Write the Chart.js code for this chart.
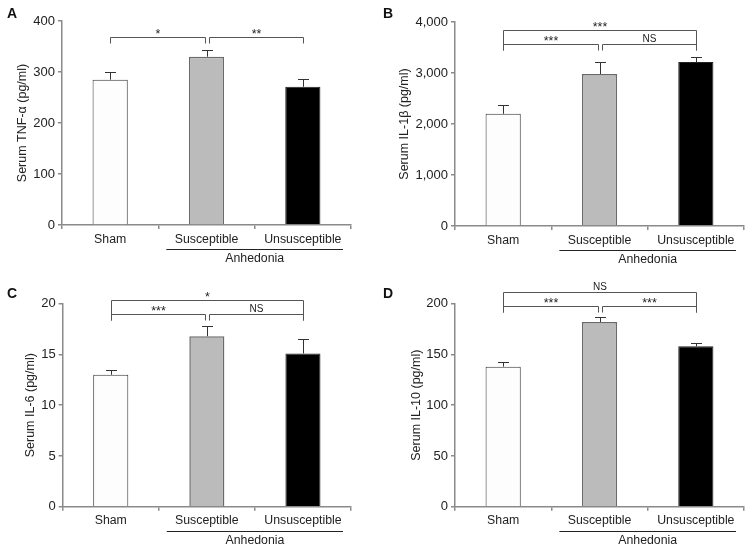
<!DOCTYPE html>
<html>
<head>
<meta charset="utf-8">
<script src="https://cdn.jsdelivr.net/npm/chart.js@4"></script>
<style>
  body { margin: 0; background: #fff; }
  #wrap { position: relative; width: 752px; height: 551px; }
  .panel { position: absolute; }
</style>
</head>
<body>
<div id="wrap">
  <div class="panel" style="left:0;top:0"><canvas id="cA" width="376" height="276"></canvas></div>
  <div class="panel" style="left:376px;top:0"><canvas id="cB" width="376" height="276"></canvas></div>
  <div class="panel" style="left:0;top:276px"><canvas id="cC" width="376" height="275"></canvas></div>
  <div class="panel" style="left:376px;top:276px"><canvas id="cD" width="376" height="275"></canvas></div>
</div>
<script>
// groups shown on every panel
var groups = ['Sham', 'Susceptible', 'Unsusceptible'];
var groupLabel = 'Anhedonia';

// means and top of error bars (mean + SEM)
var tnfMean = [285, 330, 271];
var tnfErr = [300, 344, 286];
var il1bMean = [2200, 2980, 3215];
var il1bErr = [2375, 3210, 3310];
var il6Mean = [13.0, 16.8, 15.1];
var il6Err = [13.5, 17.8, 16.5];
var il10Mean = [138, 182, 158];
var il10Err = [142.5, 186.5, 161.5];

// significance brackets: [from, to, label]
var tnfSig = [[0, 1, '*'], [1, 2, '**']];
var il1bSig = [[0, 1, '***'], [1, 2, 'NS'], [0, 2, '***']];
var il6Sig = [[0, 1, '***'], [1, 2, 'NS'], [0, 2, '*']];
var il10Sig = [[0, 1, '***'], [1, 2, '***'], [0, 2, 'NS']];
// bracket heights in data units: [inner, outer]
var tnfSigLevel = [369];
var il1bSigLevel = [3576, 3837];
var il6SigLevel = [19.0, 20.4];
var il10SigLevel = [198, 211.5];

var FONT = "'Liberation Sans', Arial, sans-serif";
var AXIS = '#8a8a8a';

var extras = {
  id: 'extras',
  afterDraw: function(chart, args, o) {
    var ctx = chart.ctx, x = chart.scales.x, y = chart.scales.y;
    var bars = chart.getDatasetMeta(0).data;
    ctx.save();
    ctx.lineWidth = 1;
    // error bars
    ctx.strokeStyle = '#333';
    o.errors.forEach(function(e, i) {
      var bx = Math.round(bars[i].x) + 0.5;
      var t = y.getPixelForValue(o.means[i]);
      var ey = Math.round(y.getPixelForValue(e)) + 0.5;
      ctx.beginPath();
      ctx.moveTo(bx, t); ctx.lineTo(bx, ey);
      ctx.moveTo(bx - 5.5, ey); ctx.lineTo(bx + 5.5, ey);
      ctx.stroke();
    });
    // brackets
    ctx.strokeStyle = '#555';
    var bottom = Math.round(y.getPixelForValue(o.levels[0]) + 6.5) + 0.5;
    o.sig.forEach(function(s) {
      var outer = (s[1] - s[0]) > 1;
      var ly = Math.round(y.getPixelForValue(o.levels[outer ? 1 : 0])) + 0.5;
      var x1 = Math.round(bars[s[0]].x) + 0.5 + (s[0] === 1 ? 2 : 0);
      var x2 = Math.round(bars[s[1]].x) + 0.5 - (s[1] === 1 ? 2 : 0);
      ctx.beginPath();
      ctx.moveTo(x1, bottom); ctx.lineTo(x1, ly); ctx.lineTo(x2, ly); ctx.lineTo(x2, bottom);
      ctx.stroke();
      ctx.fillStyle = '#222';
      ctx.textAlign = 'center';
      ctx.textBaseline = 'alphabetic';
      if (s[2] === 'NS') {
        ctx.font = '10px ' + FONT;
        ctx.fillText(s[2], (x1 + x2) / 2, ly - 3);
      } else {
        ctx.font = '12.5px ' + FONT;
        ctx.fillText(s[2], (x1 + x2) / 2, ly + 0.5);
      }
    });
    // group underline and label
    var w = (x.right - x.left) / groups.length;
    var gx1 = x.left + w + 8, gx2 = x.right - 8;
    var gy = Math.round(y.bottom + 24) + 0.5;
    ctx.strokeStyle = '#222';
    ctx.beginPath(); ctx.moveTo(gx1, gy); ctx.lineTo(gx2, gy); ctx.stroke();
    ctx.fillStyle = '#222';
    ctx.font = '12.3px ' + FONT;
    ctx.textAlign = 'center';
    ctx.textBaseline = 'middle';
    ctx.fillText(groupLabel, x.left + w * 2, gy + 9.5);
    // panel letter
    ctx.font = 'bold 14px ' + FONT;
    ctx.textAlign = 'left';
    ctx.fillStyle = '#111';
    ctx.fillText(o.letter, 7, o.letterY);
    ctx.restore();
  }
};

function makePanel(id, p) {
  new Chart(document.getElementById(id), {
    type: 'bar',
    data: {
      labels: groups,
      datasets: [{
        data: p.means,
        backgroundColor: ['#fdfdfd', '#bbbbbb', '#000000'],
        borderColor: ['#333333', '#6a6a6a', '#222222'],
        borderWidth: [1, 1.5, 1],
        borderSkipped: 'bottom',
        categoryPercentage: 1,
        barPercentage: 0.365
      }]
    },
    options: {
      responsive: false,
      animation: false,
      events: [],
      layout: { padding: p.pad },
      plugins: {
        legend: { display: false },
        tooltip: { enabled: false },
        extras: { means: p.means, errors: p.errors, sig: p.sig, levels: p.levels, letter: p.letter, letterY: p.letterY }
      },
      scales: {
        x: {
          afterFit: function(s) { s.height = 40; },
          border: { color: AXIS, width: 1.5 },
          grid: { offset: true, drawOnChartArea: false, tickLength: 4, color: AXIS, lineWidth: 1.5 },
          ticks: { color: '#222', padding: 3, maxRotation: 0, font: { family: FONT, size: 12.3 } }
        },
        y: {
          min: p.min, max: p.max,
          afterFit: function(s) { s.width = p.yWidth; },
          border: { color: AXIS, width: 1.5 },
          grid: { drawOnChartArea: false, tickLength: 4, color: AXIS, lineWidth: 1.5 },
          ticks: {
            stepSize: p.step, color: '#222', padding: 3,
            font: { family: FONT, size: 13 },
            callback: function(v) { return v.toLocaleString('en-US'); }
          },
          title: {
            display: true, text: p.title, color: '#222',
            padding: { top: 0, bottom: 0 },
            font: { family: FONT, size: 12.5 }
          }
        }
      }
    },
    plugins: [extras]
  });
}

makePanel('cA', { means: tnfMean, errors: tnfErr, sig: tnfSig, levels: tnfSigLevel, letter: 'A', letterY: 14,
  min: 0, max: 400, step: 100, title: 'Serum TNF-\u03b1 (pg/ml)', yWidth: 47,
  pad: { left: 15, top: 21, right: 25, bottom: 11 } });
makePanel('cB', { means: il1bMean, errors: il1bErr, sig: il1bSig, levels: il1bSigLevel, letter: 'B', letterY: 14,
  min: 0, max: 4000, step: 1000, title: 'Serum IL-1\u03b2 (pg/ml)', yWidth: 58,
  pad: { left: 21, top: 22, right: 8, bottom: 10 } });
makePanel('cC', { means: il6Mean, errors: il6Err, sig: il6Sig, levels: il6SigLevel, letter: 'C', letterY: 18,
  min: 0, max: 20, step: 5, title: 'Serum IL-6 (pg/ml)', yWidth: 39.7,
  pad: { left: 23, top: 27.7, right: 25, bottom: 4.3 } });
makePanel('cD', { means: il10Mean, errors: il10Err, sig: il10Sig, levels: il10SigLevel, letter: 'D', letterY: 18,
  min: 0, max: 200, step: 50, title: 'Serum IL-10 (pg/ml)', yWidth: 46,
  pad: { left: 33, top: 27.7, right: 8, bottom: 4.3 } });
</script>
</body>
</html>
